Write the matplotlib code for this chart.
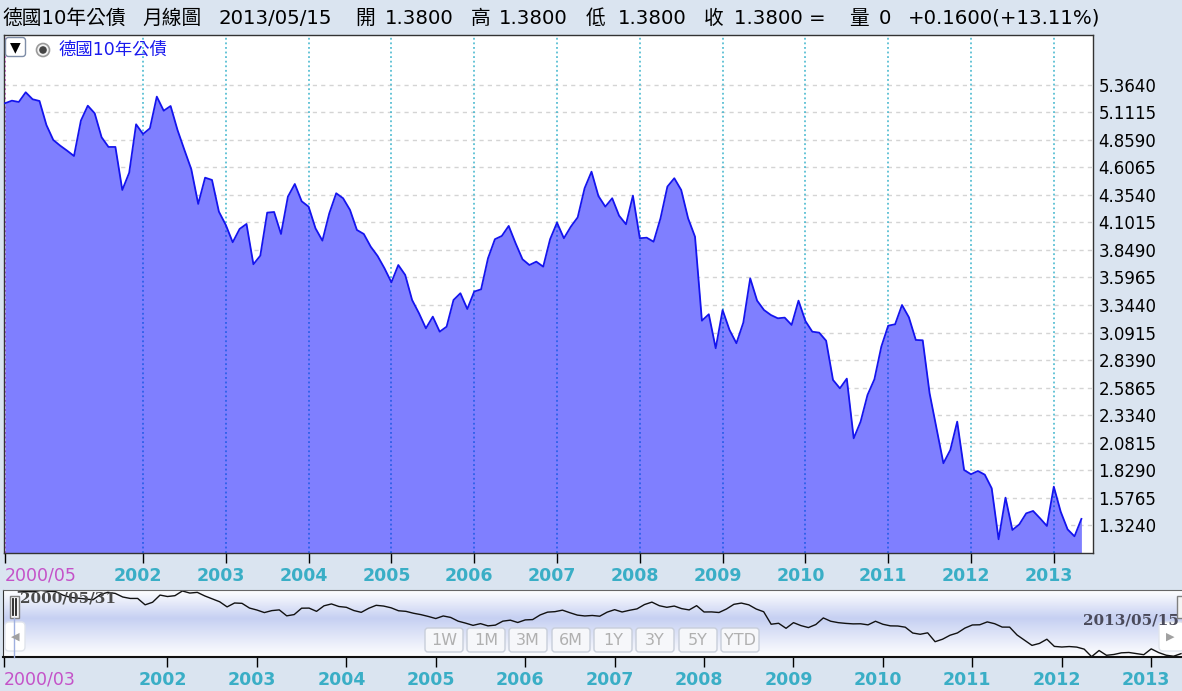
import numpy as np
import pandas as pd
import matplotlib
matplotlib.use("Agg")
import matplotlib.pyplot as plt
from matplotlib.patches import FancyBboxPatch, Rectangle, Circle
from matplotlib.colors import LinearSegmentedColormap
from matplotlib.transforms import ScaledTranslation

# monthly closes, German 10y Bund, 2000/05 .. 2013/05
months = pd.period_range("2000-05", "2013-05", freq="M")
yields = [
    5.196, 5.220, 5.208, 5.297, 5.233, 5.217, 4.997, 4.859, 4.807, 4.761,
    4.712, 5.037, 5.174, 5.104, 4.884, 4.795, 4.795, 4.400, 4.559, 5.003,
    4.914, 4.966, 5.257, 5.128, 5.171, 4.951, 4.768, 4.590, 4.272, 4.513,
    4.492, 4.201, 4.079, 3.920, 4.042, 4.088, 3.718, 3.797, 4.192, 4.198,
    3.996, 4.339, 4.455, 4.296, 4.247, 4.048, 3.935, 4.186, 4.370, 4.324,
    4.217, 4.033, 3.996, 3.880, 3.794, 3.681, 3.552, 3.711, 3.620, 3.390,
    3.268, 3.130, 3.237, 3.099, 3.145, 3.390, 3.452, 3.307, 3.467, 3.488,
    3.773, 3.948, 3.978, 4.070, 3.911, 3.764, 3.711, 3.742, 3.696, 3.948,
    4.100, 3.957, 4.063, 4.149, 4.416, 4.568, 4.345, 4.247, 4.324, 4.164,
    4.085, 4.348, 3.957, 3.962, 3.925, 4.140, 4.431, 4.508, 4.400, 4.140,
    3.971, 3.200, 3.259, 2.947, 3.298, 3.115, 2.993, 3.182, 3.589, 3.384,
    3.298, 3.252, 3.222, 3.228, 3.161, 3.384, 3.197, 3.099, 3.090, 3.016,
    2.656, 2.579, 2.668, 2.120, 2.273, 2.518, 2.662, 2.961, 3.154, 3.167,
    3.344, 3.231, 3.023, 3.020, 2.533, 2.212, 1.891, 2.013, 2.273, 1.829,
    1.790, 1.820, 1.786, 1.661, 1.193, 1.575, 1.278, 1.330, 1.431, 1.453,
    1.386, 1.315, 1.676, 1.446, 1.284, 1.220, 1.380,
]
y_tick_labels = ["1.3240", "1.5765", "1.8290", "2.0815", "2.3340", "2.5865",
                 "2.8390", "3.0915", "3.3440", "3.5965", "3.8490", "4.1015",
                 "4.3540", "4.6065", "4.8590", "5.1115", "5.3640"]
tick_years = list(range(2002, 2014))
title_parts = ["德國10年公債", "月線圖", "2013/05/15", "開", "1.3800", "高", "1.3800",
               "低", "1.3800", "收", "1.3800 =", "量", "0", "+0.1600(+13.11%)"]
title_x = [2, 142, 219, 355, 385, 471, 499, 586, 618, 704, 734, 849, 879, 908]
buttons = ["1W", "1M", "3M", "6M", "1Y", "3Y", "5Y", "YTD"]
button_x = [425, 467, 509, 552, 594, 636, 679, 721]

W, H = 1182, 691
BG = "#dae4f0"
TEAL = "#3aaec6"
MAGENTA = "#c452c8"
CJK = ["DejaVu Sans", "Noto Sans CJK TC"]

x = np.arange(len(yields))
yv = np.array(yields)
year_pos = [int(np.where((months.year == yr) & (months.month == 1))[0][0]) for yr in tick_years]
y_ticks = [float(s) for s in y_tick_labels]

fig = plt.figure(figsize=(W / 100, H / 100), dpi=100, facecolor=BG)


def fbox(x0, y0, x1, y1):
    return [x0 / W, 1 - y1 / H, (x1 - x0) / W, (y1 - y0) / H]


# ---- main chart
ax = fig.add_axes(fbox(4, 35, 1093, 553))
ax.set_facecolor("white")
ybot, ytop = 1.067, 5.823
ax.set_xlim(-0.145, 157.68)
ax.set_ylim(ybot, ytop)

for v in y_ticks:
    ax.axhline(v, color="#d4d4d4", lw=1, ls=(0, (3, 3)), zorder=1)
ax.fill_between(x, yv, ybot, color="white", lw=0, zorder=1.5)
for p in year_pos:
    ax.axvline(p, color="#3cb4cc", lw=1.1, ls=(0, (1.2, 1.8)), zorder=1.7)
ax.axvline(0, color="#d040d0", lw=1.1, ls=(0, (1.2, 1.8)), zorder=1.7)
ax.fill_between(x, yv, ybot, color="#0000ff", alpha=0.5, lw=0, zorder=2)
ax.plot(x, yv, color="#1414ee", lw=1.3, zorder=3)

ax.yaxis.tick_right()
ax.set_yticks(y_ticks)
ax.set_yticklabels(y_tick_labels)
ax.tick_params(axis="y", length=0, pad=4, labelsize=12, labelcolor="black")

ax.set_xticks([0] + year_pos)
ax.set_xticklabels(["2000/05"] + [str(y) for y in tick_years])
ax.tick_params(axis="x", length=7, width=1, pad=3, labelsize=12.5)
shift = ScaledTranslation(-5 / 100, 0, fig.dpi_scale_trans)
for k, (t, lab) in enumerate(zip(ax.xaxis.get_major_ticks(), ax.get_xticklabels())):
    c = MAGENTA if k == 0 else TEAL
    t.tick1line.set_color(c)
    lab.set_color(c)
    if k == 0:
        lab.set_ha("left")
    else:
        lab.set_fontweight("bold")
        lab.set_transform(lab.get_transform() + shift)
for s in ax.spines.values():
    s.set_color("#333333")
    s.set_linewidth(1)

# ---- navigator
nav = fig.add_axes(fbox(3, 590, 1182, 657))
nav.set_xlim(-2.07, 156.13)
nav.set_ylim(yv.min() - 0.02, yv.max() + 0.02)
cmap = LinearSegmentedColormap.from_list("nav", [(0, "#ffffff"), (0.42, "#c6d0f2"), (1, "#ffffff")])
grad = np.linspace(0, 1, 100).reshape(-1, 1)
nav.imshow(grad, cmap=cmap, extent=[0, 1, 0, 1], transform=nav.transAxes, aspect="auto", zorder=0)
nav.plot(x, yv, color="#111111", lw=1, zorder=2)
nav.set_yticks([])
nav.set_xticks([-2] + year_pos)
nav.set_xticklabels(["2000/03"] + [str(y) for y in tick_years])
nav.tick_params(axis="x", length=7, width=1, pad=3, labelsize=12.5)
for k, (t, lab) in enumerate(zip(nav.xaxis.get_major_ticks(), nav.get_xticklabels())):
    c = MAGENTA if k == 0 else TEAL
    t.tick1line.set_color(c)
    lab.set_color(c)
    if k == 0:
        lab.set_ha("left")
    else:
        lab.set_fontweight("bold")
        lab.set_transform(lab.get_transform() + shift)
nav.spines["right"].set_visible(False)
nav.spines["top"].set_color("#666666")
nav.spines["bottom"].set_color("#111111")
nav.spines["bottom"].set_linewidth(1.5)
nav.spines["left"].set_color("#333333")

# ---- overlay in pixel coordinates
ov = fig.add_axes([0, 0, 1, 1], zorder=10)
ov.set_xlim(0, W)
ov.set_ylim(H, 0)
ov.axis("off")

for xp, txt in zip(title_x, title_parts):
    ov.text(xp, 18, txt, ha="left", va="center", fontsize=14.2, family=CJK, color="black")

# legend widgets
ov.add_patch(FancyBboxPatch((5.5, 37.5), 20, 19, boxstyle="round,pad=0,rounding_size=3",
                            fc="white", ec="#7f8ea8", lw=1))
ov.text(15.5, 47.5, "▼", ha="center", va="center", fontsize=10, color="black")
ov.add_patch(Circle((43, 50), 6.5, fc="#f2f2f2", ec="#9a9a9a", lw=1.2))
ov.add_patch(Circle((43, 50), 3.8, fc="#444444", ec="none"))
ov.text(59, 50, "德國10年公債", ha="left", va="center", fontsize=12.5, family=CJK, color="#1a1aee")

# navigator widgets
ov.text(20, 599, "2000/05/31", ha="left", va="center", fontsize=11, family="DejaVu Serif",
        fontweight="bold", color="#4a4a4a")
ov.text(1179, 620, "2013/05/15", ha="right", va="center", fontsize=11, family="DejaVu Serif",
        fontweight="bold", color="#4a4a5a")
ov.plot([14, 14], [618, 657], color="#9fb0e0", lw=1)
ov.add_patch(Rectangle((9.5, 596), 9, 22, fc="#f4f4f4", ec="#808080", lw=1))
ov.plot([12.8, 12.8], [599, 615], color="#222222", lw=1.3)
ov.plot([15.5, 15.5], [599, 615], color="#222222", lw=1.3)
ov.add_patch(Rectangle((1177, 596), 8, 22, fc="#f4f4f4", ec="#808080", lw=1))
ov.add_patch(FancyBboxPatch((5, 622), 20, 29, boxstyle="round,pad=0,rounding_size=4",
                            fc="white", ec="#e0e4ec", lw=1))
ov.text(15, 637, "◀", ha="center", va="center", fontsize=8, color="#a0a0a0")
ov.add_patch(FancyBboxPatch((1159, 622), 25, 29, boxstyle="round,pad=0,rounding_size=4",
                            fc="white", ec="#e0e4ec", lw=1))
ov.text(1170, 637, "▶", ha="center", va="center", fontsize=8, color="#a0a0a0")
for bx, lab in zip(button_x, buttons):
    ov.add_patch(FancyBboxPatch((bx, 628), 38, 24, boxstyle="round,pad=0,rounding_size=3",
                                fc="#f6f7fa", ec="#c8ceda", lw=1))
    ov.text(bx + 19, 640.5, lab, ha="center", va="center", fontsize=11.5, color="#b0b0b0")

fig.savefig("out.png", dpi=100, facecolor=BG)
